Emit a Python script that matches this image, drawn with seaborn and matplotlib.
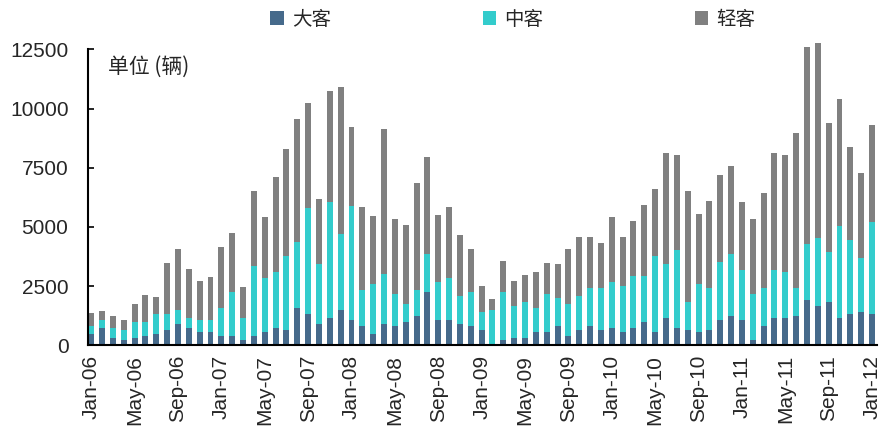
import numpy as np
import pandas as pd
import matplotlib
matplotlib.use("Agg")
import matplotlib.pyplot as plt
import seaborn as sns
from matplotlib.patches import Patch

months = list(pd.date_range("2006-01-01", periods=73, freq="MS").strftime("%b-%y"))

series_names = ["大客", "中客", "轻客"]

da_ke = [480, 730, 310, 230, 310, 390, 480, 650, 900, 730, 560, 560,
         390, 390, 230, 390, 560, 730, 650, 1580, 1320, 900, 1150, 1490,
         1070, 820, 480, 900, 820, 990, 1240, 2250, 1070, 1070, 900, 820,
         650, 60, 230, 310, 310, 560, 560, 820, 390, 650, 820, 650,
         730, 560, 730, 990, 560, 1150, 730, 650, 560, 650, 1070, 1240,
         1070, 230, 820, 1150, 1150, 1240, 1910, 1660, 1830, 1150, 1320, 1410,
         1320]

zhong_ke = [340, 340, 420, 420, 680, 590, 850, 680, 590, 420, 510, 510,
            1180, 1860, 930, 2960, 2280, 2360, 3120, 2790, 4470, 2530, 4900, 3210,
            4810, 1520, 2110, 2110, 1350, 760, 1100, 1600, 1600, 1770, 1180, 1440,
            760, 1440, 2030, 1350, 1520, 1010, 1600, 1180, 1350, 1440, 1600, 1770,
            1940, 1940, 2200, 1940, 3210, 2280, 3290, 1180, 2030, 1770, 2450, 2620,
            2110, 1940, 1600, 2030, 1940, 1180, 2360, 2870, 2110, 3880, 3120, 2280,
            3880]

qing_ke = [550, 380, 510, 420, 760, 1140, 720, 2150, 2580, 2070, 1650, 1820,
           2580, 2490, 1310, 3170, 2580, 4010, 4520, 5190, 4430, 2740, 4690, 6210,
           3340, 3500, 2870, 6120, 3170, 3330, 4520, 4100, 2830, 3000, 2580, 1820,
           1100, 470, 1310, 1060, 1140, 1520, 1310, 1440, 2320, 2490, 2150, 1900,
           2740, 2070, 2320, 3000, 2830, 4690, 4010, 4690, 2960, 3670, 3670, 3720,
           2870, 3170, 4010, 4940, 4940, 6540, 8320, 8230, 5450, 5360, 3930, 3590,
           4090]

colors = {"大客": "#466A8B", "中客": "#33CCCC", "轻客": "#808080"}

df = pd.DataFrame({"month": months, "大客": da_ke, "中客": zhong_ke, "轻客": qing_ke})
df["cum_da"] = df["大客"]
df["cum_zhong"] = df["大客"] + df["中客"]
df["cum_qing"] = df["cum_zhong"] + df["轻客"]

sns.set_theme(style="white")
plt.rcParams["font.family"] = ["Liberation Sans", "Noto Sans CJK SC", "DejaVu Sans"]

fig = plt.figure(figsize=(8.84, 4.30), dpi=100)
ax = fig.add_axes([0.0995, 0.197, 0.8925, 0.688])

bw = 0.55
for col, name in [("cum_qing", "轻客"), ("cum_zhong", "中客"), ("cum_da", "大客")]:
    sns.barplot(data=df, x="month", y=col, order=months, color=colors[name],
                width=bw, linewidth=0, saturation=1, ax=ax, errorbar=None)

for p in ax.patches:
    p.set_clip_on(False)

ax.set_ylim(0, 12500)
ax.set_xlim(-0.3, 72.45)
ax.set_yticks([0, 2500, 5000, 7500, 10000, 12500])
ax.set_yticklabels(["0", "2500", "5000", "7500", "10000", "12500"], fontsize=15)
tick_pos = list(range(0, 73, 4))
ax.set_xticks(tick_pos)
ax.set_xticklabels([months[i] for i in tick_pos], rotation=90, fontsize=15)
ax.tick_params(axis="x", which="major", length=0, pad=7)
ax.set_xticks([t - 0.5 for t in tick_pos[1:]] + [72.45], minor=True)
ax.tick_params(axis="x", which="minor", direction="in", length=4, width=1.5, color="black")
ax.tick_params(axis="y", which="major", direction="in", length=4, width=1.2, color="black", pad=14, left=True)
ax.set_xlabel("")
ax.set_ylabel("")

for s in ["top", "right"]:
    ax.spines[s].set_visible(False)
for s in ["left", "bottom"]:
    ax.spines[s].set_color("black")
    ax.spines[s].set_linewidth(1.5)

ax.text(0.025, 0.94, "单位 (辆)", transform=ax.transAxes, fontsize=15,
        family=["Noto Sans CJK SC", "DejaVu Sans"], va="center", ha="left")

handles = [Patch(facecolor=colors[n], edgecolor="none", label=n) for n in series_names]
fig.legend(handles=handles, loc="center", bbox_to_anchor=(0.58, 0.955), ncol=3,
           frameon=False, handlelength=0.7, handleheight=0.7, handletextpad=0.4,
           columnspacing=7.8, prop={"family": ["Noto Sans CJK SC", "DejaVu Sans"], "size": 14})

fig.savefig("out.png", dpi=100, facecolor="white")
